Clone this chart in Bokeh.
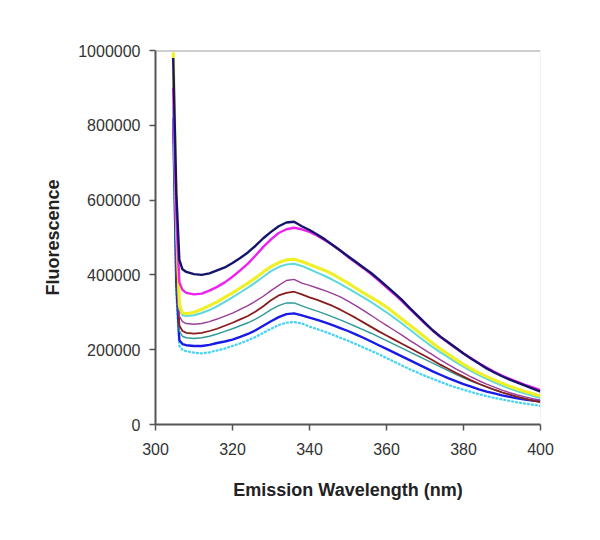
from bokeh.plotting import figure
from bokeh.models import FixedTicker, NumeralTickFormatter, Span, ColumnDataSource
from bokeh.embed import file_html
from bokeh.resources import INLINE

# Emission wavelength (nm)
wavelength = [304.6, 305.4, 306.2, 307, 308, 310, 312, 314, 316, 318, 320, 322, 324, 326, 328,
              330, 332, 334, 336, 338, 340, 342, 344, 346, 348, 350, 352, 354, 356, 358,
              360, 362, 364, 366, 368, 370, 372, 374, 376, 378, 380, 382, 384, 386, 388,
              390, 392, 394, 396, 398, 400]

# Fluorescence values (thousands of counts) for each trace
navy = [980, 620, 440, 415, 408, 402, 400, 404, 412, 420, 432, 445, 460, 478, 498,
        515, 530, 540, 542, 530, 520, 508, 495, 480, 465, 450, 435, 420, 405, 388,
        370, 352, 333, 312, 292, 272, 252, 235, 220, 205, 190, 176, 163, 150, 139,
        129, 120, 112, 104, 96, 88]
magenta = [900, 560, 380, 360, 352, 348, 350, 358, 368, 380, 395, 412, 430, 452, 475,
           495, 512, 522, 526, 522, 515, 505, 493, 480, 465, 448, 433, 418, 402, 385,
           367, 349, 330, 310, 290, 270, 251, 234, 219, 204, 190, 177, 164, 152, 141,
           131, 122, 114, 106, 99, 92]
yellow = [995, 600, 320, 298, 296, 300, 308, 318, 328, 340, 352, 365, 378, 392, 408,
          422, 433, 440, 442, 436, 428, 420, 412, 402, 390, 378, 365, 352, 340, 328,
          314, 298, 282, 266, 250, 233, 217, 202, 188, 174, 161, 149, 138, 128, 119,
          110, 102, 95, 88, 82, 76]
cyan = [850, 500, 310, 292, 290, 292, 298, 306, 316, 328, 340, 353, 366, 380, 395,
        410, 421, 428, 430, 424, 415, 406, 397, 387, 376, 364, 352, 340, 327, 314,
        300, 285, 270, 254, 238, 222, 207, 193, 180, 167, 155, 143, 132, 122, 113,
        104, 96, 89, 83, 77, 71]
purple = [800, 450, 290, 275, 270, 268, 270, 275, 282, 290, 298, 308, 318, 330, 343,
          358, 372, 385, 388, 378, 372, 365, 358, 350, 341, 330, 318, 305, 292, 278,
          265, 252, 239, 225, 212, 199, 186, 173, 161, 149, 138, 127, 117, 108, 100,
          92, 85, 79, 74, 69, 65]
brown = [960, 420, 265, 250, 245, 243, 245, 250, 256, 264, 272, 281, 290, 302, 316,
         332, 345, 352, 355, 348, 340, 333, 325, 317, 307, 296, 285, 273, 261, 249,
         238, 227, 216, 205, 194, 183, 172, 160, 149, 138, 128, 118, 109, 101, 93,
         86, 80, 74, 69, 64, 60]
teal = [850, 400, 250, 236, 232, 230, 232, 236, 242, 249, 256, 264, 272, 282, 294,
        307, 318, 325, 325, 317, 310, 303, 296, 288, 280, 271, 262, 253, 244, 234,
        224, 214, 204, 194, 184, 174, 164, 154, 144, 134, 125, 116, 108, 100, 93,
        86, 80, 74, 69, 64, 60]
blue = [820, 380, 225, 215, 212, 210, 210, 213, 218, 222, 227, 234, 242, 252, 264,
        276, 287, 295, 297, 292, 286, 280, 273, 266, 258, 250, 241, 232, 222, 212,
        202, 192, 182, 172, 162, 152, 142, 133, 124, 116, 108, 101, 94, 88, 83,
        78, 74, 70, 67, 64, 62]
light_cyan = [780, 350, 210, 200, 196, 192, 190, 193, 198, 203, 210, 217, 225, 234, 245,
              256, 266, 272, 274, 270, 262, 255, 248, 240, 232, 224, 215, 206, 197, 188,
              178, 168, 158, 148, 139, 130, 122, 114, 106, 99, 93, 87, 81, 76, 71,
              67, 63, 59, 56, 53, 50]

x_ticks = [300, 320, 340, 360, 380, 400]
y_ticks = [0, 200000, 400000, 600000, 800000, 1000000]

series = [
    (light_cyan, "#45d3f5", 2.2, "3 1"),
    (blue, "#1a1ae6", 2.4, "solid"),
    (teal, "#2e9a9a", 1.4, "solid"),
    (brown, "#8b1c1c", 1.8, "solid"),
    (purple, "#9a3d9a", 1.4, "solid"),
    (cyan, "#5fd8dc", 2.0, "solid"),
    (yellow, "#f0f028", 3.2, "solid"),
    (magenta, "#ee22ee", 2.4, "solid"),
    (navy, "#14146e", 2.4, "solid"),
]

p = figure(width=592, height=524, output_backend="svg", toolbar_location=None,
           x_range=(300, 400), y_range=(0, 1000000),
           min_border_left=155, min_border_right=52, min_border_top=50, min_border_bottom=100)

for vals, color, w, dash in series:
    src = ColumnDataSource(dict(x=wavelength, y=[v * 1000 for v in vals]))
    p.line("x", "y", source=src, line_color=color, line_width=w, line_dash=dash)

p.grid.visible = False
p.background_fill_color = "white"
p.border_fill_color = "white"
p.outline_line_color = None
p.add_layout(Span(location=1000000, dimension="width", line_color="#a0a0a0", line_width=2))
p.add_layout(Span(location=400, dimension="height", line_color="#e4e4e4", line_width=1))

for ax in (p.xaxis[0], p.yaxis[0]):
    ax.axis_line_color = "#555555"
    ax.axis_line_width = 2
    ax.major_tick_line_color = "#555555"
    ax.major_tick_line_width = 1.5
    ax.major_tick_out = 6
    ax.major_tick_in = 0
    ax.minor_tick_line_color = None
    ax.major_label_text_font = "Liberation Sans"
    ax.major_label_text_font_size = "16px"
    ax.major_label_text_color = "#333333"
    ax.axis_label_text_font = "Liberation Sans"
    ax.axis_label_text_font_style = "bold"
    ax.axis_label_text_font_size = "18px"
    ax.axis_label_text_color = "#222222"

p.xaxis[0].ticker = FixedTicker(ticks=x_ticks)
p.yaxis[0].ticker = FixedTicker(ticks=y_ticks)
p.yaxis[0].formatter = NumeralTickFormatter(format="0")
p.xaxis[0].axis_label = "Emission Wavelength (nm)"
p.yaxis[0].axis_label = "Fluorescence"
p.xaxis[0].major_label_standoff = 12
p.xaxis[0].axis_label_standoff = 22
p.yaxis[0].major_label_standoff = 9
p.yaxis[0].axis_label_standoff = 12

open("out.html", "w").write(file_html(p, INLINE))
